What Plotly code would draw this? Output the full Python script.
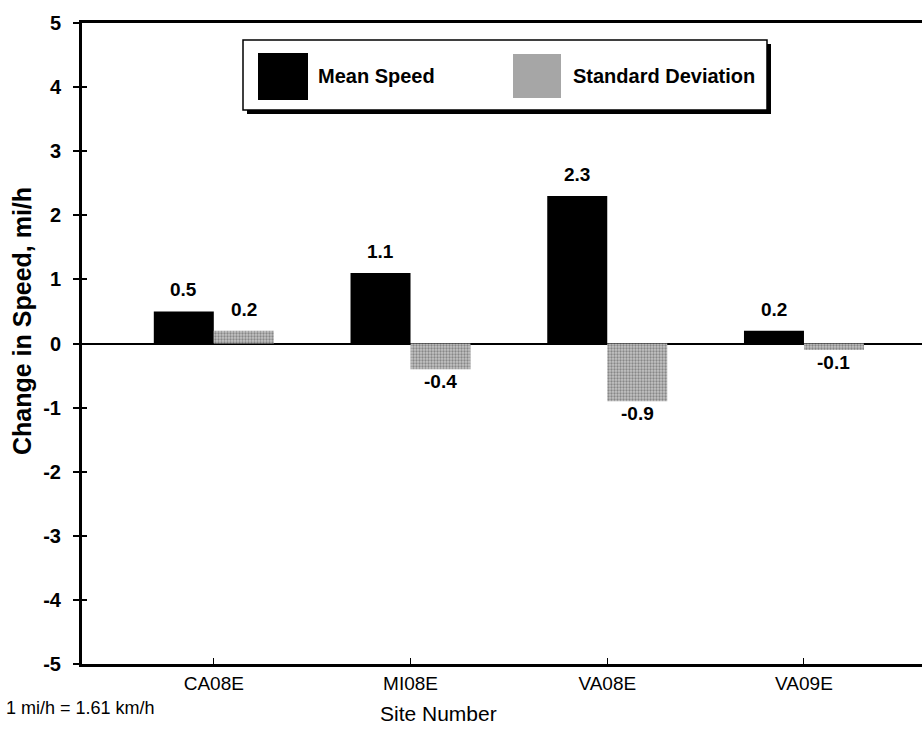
import plotly.graph_objects as go

sites = ["CA08E", "MI08E", "VA08E", "VA09E"]
mean_speed = [0.5, 1.1, 2.3, 0.2]
std_dev = [0.2, -0.4, -0.9, -0.1]
y_ticks = [5, 4, 3, 2, 1, 0, -1, -2, -3, -4, -5]

FONT = "Liberation Sans, Arial, Helvetica"
L, T, B = 82, 23, 70
W, H = 922, 734
PW, PH = W - L, H - T - B


def px(xp):
    return (xp - L) / PW


def py(yp):
    return (H - B - yp) / PH


fig = go.Figure()
fig.add_trace(go.Bar(
    x=sites, y=mean_speed, name="Mean Speed",
    marker=dict(color="black", line=dict(width=0)),
))
fig.add_trace(go.Bar(
    x=sites, y=std_dev, name="Standard Deviation",
    marker=dict(color="#c4c4c4", line=dict(width=0),
                pattern=dict(shape=".", fgcolor="#4a4a4a", size=3, solidity=0.45)),
))
fig.add_trace(go.Scatter(x=[None], y=[None], yaxis="y2", showlegend=False, hoverinfo="skip"))

fig.update_layout(
    width=W, height=H,
    margin=dict(l=L, r=0, t=T, b=B),
    paper_bgcolor="white", plot_bgcolor="white",
    barmode="group", bargap=0.39, bargroupgap=0,
    showlegend=False,
    font=dict(family=FONT, color="black"),
    xaxis=dict(
        type="category", range=[-0.67, 3.6],
        showline=True, linecolor="black", linewidth=3, mirror=True,
        ticks="inside", ticklen=6, tickcolor="black", tickwidth=1,
        tickfont=dict(size=19), ticklabelstandoff=0,
        showgrid=False, zeroline=False,
    ),
    yaxis=dict(
        range=[-5, 5], tickvals=y_ticks, ticktext=[str(v) for v in y_ticks],
        showline=True, linecolor="black", linewidth=3,
        ticks="outside", ticklen=6, tickcolor="black", tickwidth=2,
        tickfont=dict(size=20, weight="bold"), ticklabelstandoff=8,
        showgrid=False, zeroline=True, zerolinecolor="black", zerolinewidth=2,
    ),
    yaxis2=dict(
        overlaying="y", range=[-5, 5], tickvals=y_ticks, showticklabels=False,
        ticks="inside", ticklen=5, tickcolor="black", tickwidth=2,
        showgrid=False, zeroline=False, showline=False, side="left",
    ),
)

# Value labels above / below each bar
for vals, shift in ((mean_speed, -30), (std_dev, 30)):
    for s, v in zip(sites, vals):
        fig.add_annotation(
            x=s, y=v, xref="x", yref="y", text=f"<b>{v:.1f}</b>", showarrow=False,
            xshift=shift, yanchor="bottom" if v >= 0 else "top",
            yshift=9 if v >= 0 else 0, font=dict(size=19),
        )

# Legend box (manual, with drop shadow)
fig.add_shape(type="rect", xref="paper", yref="paper",
              x0=px(247), x1=px(771), y0=py(114), y1=py(44),
              fillcolor="black", line=dict(width=0), layer="above")
fig.add_shape(type="rect", xref="paper", yref="paper",
              x0=px(243), x1=px(767), y0=py(110), y1=py(40),
              fillcolor="white", line=dict(color="black", width=1.5), layer="above")
fig.add_shape(type="rect", xref="paper", yref="paper",
              x0=px(258), x1=px(308), y0=py(100), y1=py(53),
              fillcolor="black", line=dict(width=0), layer="above")
fig.add_shape(type="rect", xref="paper", yref="paper",
              x0=px(513), x1=px(561), y0=py(98), y1=py(54),
              fillcolor="#a6a6a6", line=dict(width=0), layer="above")
fig.add_annotation(xref="paper", yref="paper", x=px(316), y=py(76),
                   text="<b>Mean Speed</b>", showarrow=False, xanchor="left", yanchor="middle",
                   font=dict(size=20))
fig.add_annotation(xref="paper", yref="paper", x=px(571), y=py(76),
                   text="<b>Standard Deviation</b>", showarrow=False, xanchor="left", yanchor="middle",
                   font=dict(size=20))

# Axis titles
fig.add_annotation(xref="paper", yref="paper", x=px(22), y=py(321),
                   text="<b>Change in Speed, mi/h</b>", showarrow=False, textangle=-90,
                   xanchor="center", yanchor="middle", font=dict(size=25))
fig.add_annotation(xref="paper", yref="paper", x=px(438), y=py(713),
                   text="Site Number", showarrow=False, xanchor="center", yanchor="middle",
                   font=dict(size=21))
fig.add_annotation(xref="paper", yref="paper", x=px(4), y=py(708),
                   text="1 mi/h = 1.61 km/h", showarrow=False, xanchor="left", yanchor="middle",
                   font=dict(size=18))

fig.write_html("out.html", config={"displayModeBar": False},
               post_script="document.body.style.margin='0';document.body.style.overflow='hidden';")
